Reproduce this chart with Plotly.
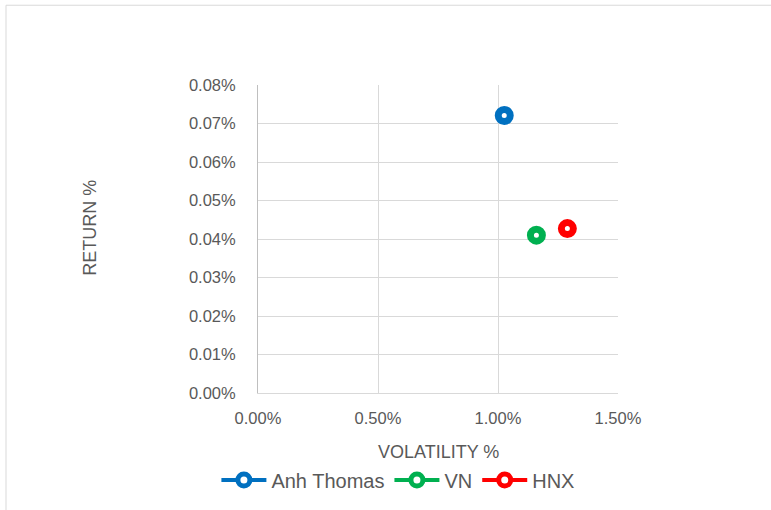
import plotly.graph_objects as go

series = ["Anh Thomas", "VN", "HNX"]
volatility = [1.026, 1.160, 1.289]   # %
returns = [0.0721, 0.0410, 0.0427]   # %
colors = ["#0070C0", "#00B050", "#FF0000"]

x_ticks = [0, 0.5, 1.0, 1.5]
x_labels = ["0.00%", "0.50%", "1.00%", "1.50%"]
y_ticks = [0, 0.01, 0.02, 0.03, 0.04, 0.05, 0.06, 0.07, 0.08]
y_labels = ["0.00%", "0.01%", "0.02%", "0.03%", "0.04%", "0.05%", "0.06%", "0.07%", "0.08%"]

font_family = "Liberation Sans, Arial, sans-serif"
text_color = "#595959"

fig = go.Figure()
for name, xv, yv, c in zip(series, volatility, returns, colors):
    fig.add_trace(go.Scatter(
        x=[xv], y=[yv], name=name, mode="lines+markers",
        line=dict(color=c, width=4),
        marker=dict(symbol="circle", size=12, color="white",
                    line=dict(color=c, width=7)),
    ))

fig.update_layout(
    width=771, height=510,
    margin=dict(l=258, r=153, t=85, b=116),
    paper_bgcolor="white", plot_bgcolor="white",
    font=dict(family=font_family, size=16, color=text_color),
    showlegend=True,
    legend=dict(orientation="h", x=0.39, xanchor="center", y=-0.278, yanchor="middle",
                font=dict(size=20, color=text_color), itemwidth=45,
                tracegroupgap=0, bgcolor="rgba(0,0,0,0)"),
    xaxis=dict(range=[0, 1.5], tickvals=x_ticks, ticktext=x_labels,
               showgrid=True, gridcolor="#d9d9d9", gridwidth=1,
               showline=True, linecolor="#d9d9d9", zeroline=False,
               ticks="", ticklabelstandoff=10, tickfont=dict(size=16.5, color=text_color)),
    yaxis=dict(range=[0, 0.08], tickvals=y_ticks, ticktext=y_labels,
               showgrid=True, gridcolor="#d9d9d9", gridwidth=1,
               showline=True, linecolor="#bfbfbf", zeroline=False,
               ticks="", ticklabelstandoff=18, tickfont=dict(size=16.5, color=text_color)),
    annotations=[
        dict(text="VOLATILITY %", xref="paper", yref="paper", x=0.5, y=-0.19,
             xanchor="center", yanchor="middle", showarrow=False,
             font=dict(size=18, color=text_color)),
        dict(text="RETURN %", xref="paper", yref="paper", x=-0.465, y=0.535,
             xanchor="center", yanchor="middle", textangle=-90, showarrow=False,
             font=dict(size=18, color=text_color)),
    ],
    shapes=[
        dict(type="rect", xref="paper", yref="paper", x0=-0.7, x1=2.0, y0=-2.0, y1=1.259,
             line=dict(color="#d9d9d9", width=1), fillcolor="rgba(0,0,0,0)", layer="below"),
    ],
)

fig.write_html("out.html", config={"displayModeBar": False},
               post_script="document.body.style.margin='0';")
